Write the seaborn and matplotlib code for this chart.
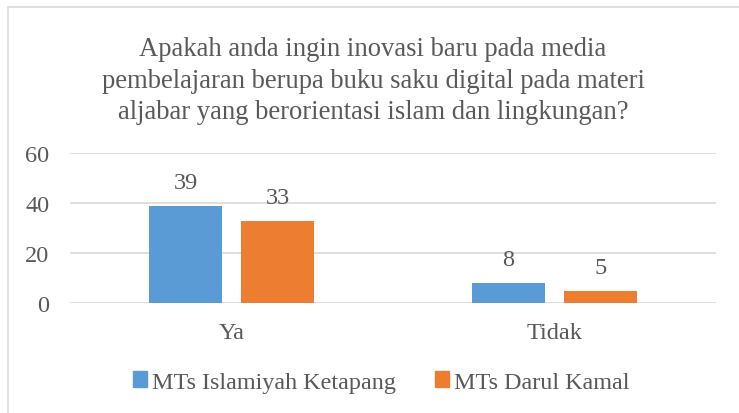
import matplotlib
matplotlib.use("Agg")
import matplotlib.pyplot as plt
import matplotlib.patches as mpatches
import seaborn as sns
import pandas as pd

categories = ["Ya", "Tidak"]
schools = ["MTs Islamiyah Ketapang", "MTs Darul Kamal"]
islamiyah = [39, 8]
darul = [33, 5]
yticks = [0, 20, 40, 60]
title = ("Apakah anda ingin inovasi baru pada media\n"
         "pembelajaran berupa buku saku digital pada materi\n"
         "aljabar yang berorientasi islam dan lingkungan?")
colors = ["#5B9BD5", "#ED7D31"]

df = pd.DataFrame({
    "kategori": categories * 2,
    "nilai": islamiyah + darul,
    "sekolah": [schools[0]] * 2 + [schools[1]] * 2,
})

sns.set_theme(style="white")
plt.rcParams["font.family"] = ["Liberation Serif", "DejaVu Serif"]
txt = "#595959"

fig = plt.figure(figsize=(7.39, 4.14), dpi=100)
fig.patch.set_facecolor("white")
ax = fig.add_axes([70/739, 1-304/414, (716-70)/739, (304-154)/414])

sns.barplot(data=df, x="kategori", y="nilai", hue="sekolah", palette=colors,
            order=categories, hue_order=schools, width=0.570, gap=0.217,
            saturation=1, linewidth=0, ax=ax, legend=False)

ax.set_ylim(0, 60)
ax.set_yticks(yticks)
ax.set_xlim(-0.5, 1.5)
ax.grid(axis="y", color="#D9D9D9", linewidth=1.2)
ax.set_axisbelow(True)
for s in ax.spines.values():
    s.set_visible(False)
ax.set_xlabel("")
ax.set_ylabel("")
ax.tick_params(axis="y", length=0, pad=15, labelsize=17.5, labelcolor=txt)
ax.tick_params(axis="x", length=0, pad=14, labelsize=17.5, labelcolor=txt)

for cont in ax.containers:
    ax.bar_label(cont, padding=9, fontsize=17.5, color=txt)

fig.text(373/739, 1-81/414, title, ha="center", va="center", fontsize=19.2,
         color=txt, linespacing=1.36)

handles = [mpatches.Patch(color=c, label=l) for c, l in zip(colors, schools)]
fig.legend(handles=handles, loc="center", bbox_to_anchor=(381/739, 1-383/414),
           ncol=2, frameon=False, fontsize=17.4, handlelength=0.6, handleheight=0.6,
           handletextpad=0.2, columnspacing=1.6, labelcolor=txt)

# chart frame
fig.patches.append(mpatches.Rectangle((8/739, -0.1), 1.2, 1 - 8/414 + 0.1,
                                      transform=fig.transFigure, fill=False,
                                      edgecolor="#D9D9D9", linewidth=1.2))

fig.savefig("out.png", dpi=100)
